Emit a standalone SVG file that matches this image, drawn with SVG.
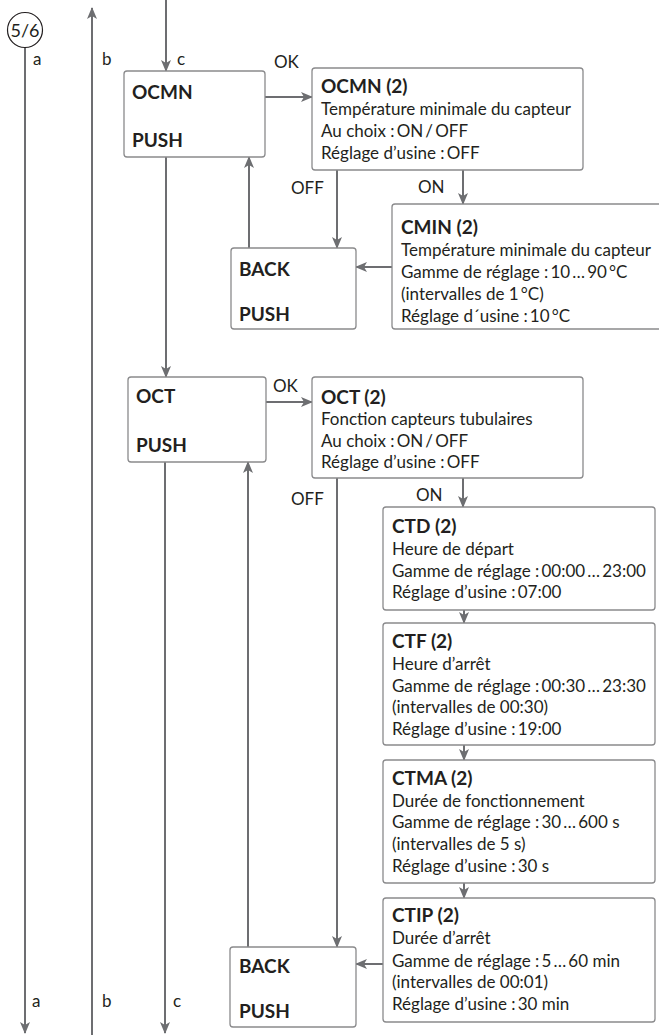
<svg xmlns="http://www.w3.org/2000/svg" width="659" height="1035" viewBox="0 0 659 1035">
<defs>
<marker id="ah" markerUnits="userSpaceOnUse" markerWidth="12" markerHeight="10" viewBox="0 0 12 10" refX="11" refY="5" orient="auto">
<path d="M0,0 L12,5 L0,10 L3,5 z" fill="#6d6e71"/>
</marker>
<style>
text{font-family:Lato,"Open Sans","Liberation Sans",sans-serif;font-size:17px;fill:#231f20}
.b{font-weight:bold;font-size:19px}
.box{fill:#fff;stroke:#8a8a8c;stroke-width:1.3}
.ca{fill:none;stroke:#6d6e71;stroke-width:2;marker-end:url(#ah)}
</style>
</defs>
<rect width="659" height="1035" fill="#fff"/>
<g id="connectors">
<line class="ca" x1="25" y1="48" x2="25" y2="1033"/>
<line class="ca" x1="92" y1="1035" x2="92" y2="8"/>
<line class="ca" x1="166" y1="0" x2="166" y2="71"/>
<line class="ca" x1="265" y1="97" x2="312" y2="97"/>
<line class="ca" x1="337" y1="170" x2="337" y2="248"/>
<line class="ca" x1="463" y1="170" x2="463" y2="204"/>
<line class="ca" x1="392" y1="267" x2="356" y2="267"/>
<line class="ca" x1="249" y1="248" x2="249" y2="157"/>
<line class="ca" x1="166" y1="157" x2="166" y2="377"/>
<line class="ca" x1="266" y1="402" x2="312" y2="402"/>
<line class="ca" x1="337" y1="478" x2="337" y2="947"/>
<line class="ca" x1="463" y1="478" x2="463" y2="507"/>
<line class="ca" x1="464" y1="610" x2="464" y2="623"/>
<line class="ca" x1="464" y1="745" x2="464" y2="760"/>
<line class="ca" x1="464" y1="883" x2="464" y2="898"/>
<line class="ca" x1="383" y1="964" x2="356" y2="964"/>
<line class="ca" x1="248" y1="947" x2="248" y2="462"/>
<line class="ca" x1="165" y1="462" x2="165" y2="1033"/>
<text x="33" y="65">a</text>
<text x="102" y="65">b</text>
<text x="177" y="65">c</text>
<text x="32" y="1007">a</text>
<text x="102" y="1007">b</text>
<text x="173" y="1007">c</text>
<text x="274" y="68">OK</text>
<text x="273" y="392">OK</text>
<text x="291" y="194">OFF</text>
<text x="418" y="193">ON</text>
<text x="291" y="505">OFF</text>
<text x="416" y="501">ON</text>
</g>
<g id="ref56">
<circle cx="25" cy="30" r="17.5" fill="#fff" stroke="#231f20" stroke-width="1.2"/>
<text x="25" y="36.5" text-anchor="middle" style="font-size:18px">5/6</text>
</g>
<g id="ocmn">
<rect class="box" x="124" y="71" width="141" height="86" rx="3"/>
<text class="b" x="132" y="99">OCMN</text>
<text class="b" x="132" y="147">PUSH</text>
</g>
<g id="ocmn2">
<rect class="box" x="312" y="68" width="271" height="102" rx="3"/>
<text class="b" x="321" y="93">OCMN (2)</text>
<text x="321" y="115">Température minimale du capteur</text>
<text x="321" y="137">Au choix :&#8201;ON&#8201;/&#8201;OFF</text>
<text x="321" y="159">Réglage d’usine :&#8201;OFF</text>
</g>
<g id="cmin">
<rect class="box" x="392" y="204" width="290" height="125" rx="3"/>
<text class="b" x="401" y="234">CMIN (2)</text>
<text x="401" y="256">Température minimale du capteur</text>
<text x="401" y="278">Gamme de réglage :&#8201;10&#8201;…&#8201;90&#8201;°C</text>
<text x="401" y="300">(intervalles de 1&#8201;°C)</text>
<text x="401" y="322">Réglage d´usine :&#8201;10&#8201;°C</text>
</g>
<g id="back1">
<rect class="box" x="231" y="248" width="125" height="81" rx="3"/>
<text class="b" x="239" y="276">BACK</text>
<text class="b" x="239" y="321">PUSH</text>
</g>
<g id="oct">
<rect class="box" x="128" y="377" width="138" height="85" rx="3"/>
<text class="b" x="136" y="403">OCT</text>
<text class="b" x="136" y="452">PUSH</text>
</g>
<g id="oct2">
<rect class="box" x="312" y="377" width="271" height="101" rx="3"/>
<text class="b" x="321" y="404">OCT (2)</text>
<text x="321" y="425">Fonction capteurs tubulaires</text>
<text x="321" y="447">Au choix :&#8201;ON&#8201;/&#8201;OFF</text>
<text x="321" y="468">Réglage d’usine :&#8201;OFF</text>
</g>
<g id="ctd">
<rect class="box" x="383" y="507" width="272" height="103" rx="3"/>
<text class="b" x="392" y="533">CTD (2)</text>
<text x="392" y="555">Heure de départ</text>
<text x="392" y="577">Gamme de réglage :&#8201;00:00&#8201;…&#8201;23:00</text>
<text x="392" y="598">Réglage d’usine :&#8201;07:00</text>
</g>
<g id="ctf">
<rect class="box" x="383" y="623" width="272" height="122" rx="3"/>
<text class="b" x="392" y="648">CTF (2)</text>
<text x="392" y="670">Heure d’arrêt</text>
<text x="392" y="692">Gamme de réglage :&#8201;00:30&#8201;…&#8201;23:30</text>
<text x="392" y="713">(intervalles de 00:30)</text>
<text x="392" y="735">Réglage d’usine :&#8201;19:00</text>
</g>
<g id="ctma">
<rect class="box" x="383" y="760" width="272" height="123" rx="3"/>
<text class="b" x="392" y="785">CTMA (2)</text>
<text x="392" y="807">Durée de fonctionnement</text>
<text x="392" y="828">Gamme de réglage :&#8201;30&#8201;…&#8201;600 s</text>
<text x="392" y="850">(intervalles de 5 s)</text>
<text x="392" y="872">Réglage d’usine :&#8201;30 s</text>
</g>
<g id="ctip">
<rect class="box" x="383" y="898" width="272" height="124" rx="3"/>
<text class="b" x="392" y="922">CTIP (2)</text>
<text x="392" y="944">Durée d’arrêt</text>
<text x="392" y="967">Gamme de réglage :&#8201;5&#8201;…&#8201;60 min</text>
<text x="392" y="988">(intervalles de 00:01)</text>
<text x="392" y="1010">Réglage d’usine :&#8201;30 min</text>
</g>
<g id="back2">
<rect class="box" x="230" y="947" width="126" height="80" rx="3"/>
<text class="b" x="239" y="973">BACK</text>
<text class="b" x="239" y="1018">PUSH</text>
</g>
</svg>
